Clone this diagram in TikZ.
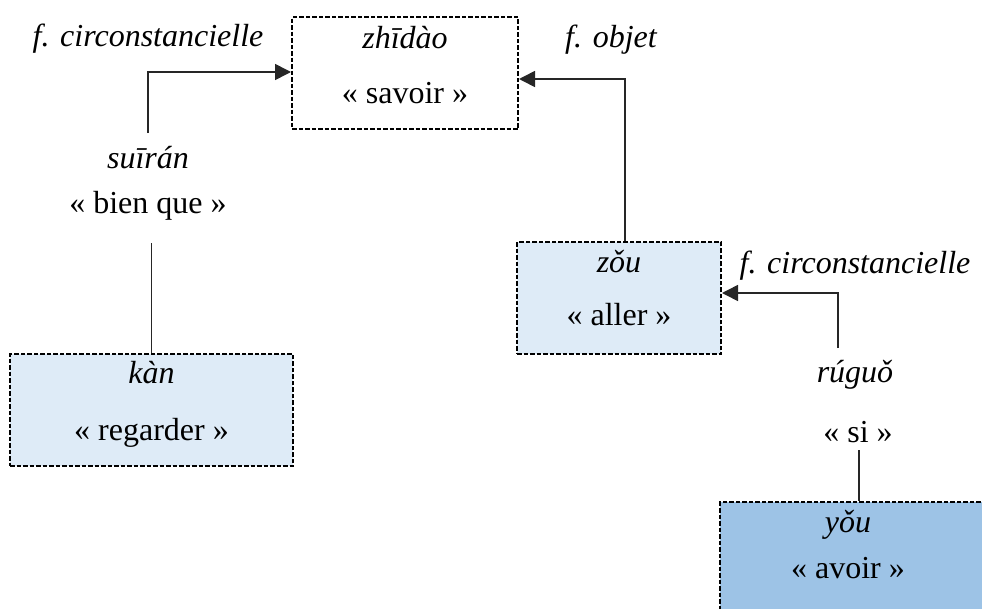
\documentclass[tikz,border=0pt]{standalone}
\usepackage{fontspec}
\setmainfont{Liberation Serif}
\usetikzlibrary{arrows.meta}
\definecolor{lightblue}{HTML}{DEEBF7}
\definecolor{midblue}{HTML}{9DC3E6}
\newcommand{\fsz}{\fontsize{32}{38}\selectfont}
\tikzset{
  wordbox/.style={draw=black, line width=2pt, dash pattern=on 4.5pt off 2pt,
    rectangle, inner sep=0pt},
  txt/.style={anchor=base, inner sep=0pt, font=\fsz},
  itxt/.style={txt, font=\fsz\itshape},
  conn/.style={draw=black!85, line width=1.6pt},
  arr/.style={conn, -{Triangle[length=16pt,width=16pt]}}
}
\begin{document}
\begin{tikzpicture}[x=1pt,y=-1pt]
\useasboundingbox (0,0) rectangle (982,608);
% boxes
\node[wordbox, fill=white, minimum width=226pt, minimum height=112pt] (zhidao) at (405,73) {};
\node[wordbox, fill=lightblue, minimum width=204pt, minimum height=112pt] (zou) at (619,298) {};
\node[wordbox, fill=lightblue, minimum width=283pt, minimum height=112pt] (kan) at (151.5,410) {};
\node[wordbox, fill=midblue, minimum width=266pt, minimum height=112pt] (you) at (853,558) {};
% box texts
\node[itxt] (t1a) at (405,48) {zhīdào};
\node[txt]  (t1b) at (405,103) {« savoir »};
\node[itxt] (t2a) at (619,272) {zǒu};
\node[txt]  (t2b) at (619,325) {« aller »};
\node[itxt] (t3a) at (151.5,383) {kàn};
\node[txt]  (t3b) at (151.5,440) {« regarder »};
\node[itxt] (t4a) at (848,532) {yǒu};
\node[txt]  (t4b) at (848,578) {« avoir »};
% labels
\node[itxt] (l1) at (148,46) {f. circonstancielle};
\node[itxt] (l2) at (148,168) {suīrán};
\node[txt]  (l3) at (148,213) {« bien que »};
\node[itxt] (l4) at (611,47) {f. objet};
\node[itxt] (l5) at (855,273) {f. circonstancielle};
\node[itxt] (l6) at (855,382) {rúguǒ};
\node[txt]  (l7) at (858,442) {« si »};
% connector ends
\coordinate (c1) at (148,133);
\coordinate (c2) at (151.5,243);
\coordinate (c4) at (838,348);
\coordinate (c5) at (859,450);
% connectors
\draw[arr] (c1) |- ([yshift=1pt]zhidao.west);
\draw[conn] (kan.north) -- (c2);
\draw[arr] ([xshift=6pt]zou.north) |- ([yshift=-6pt]zhidao.east);
\draw[arr] (c4) |- ([yshift=5pt]zou.east);
\draw[conn] (c5) -- (c5 |- you.north);
\end{tikzpicture}
\end{document}
